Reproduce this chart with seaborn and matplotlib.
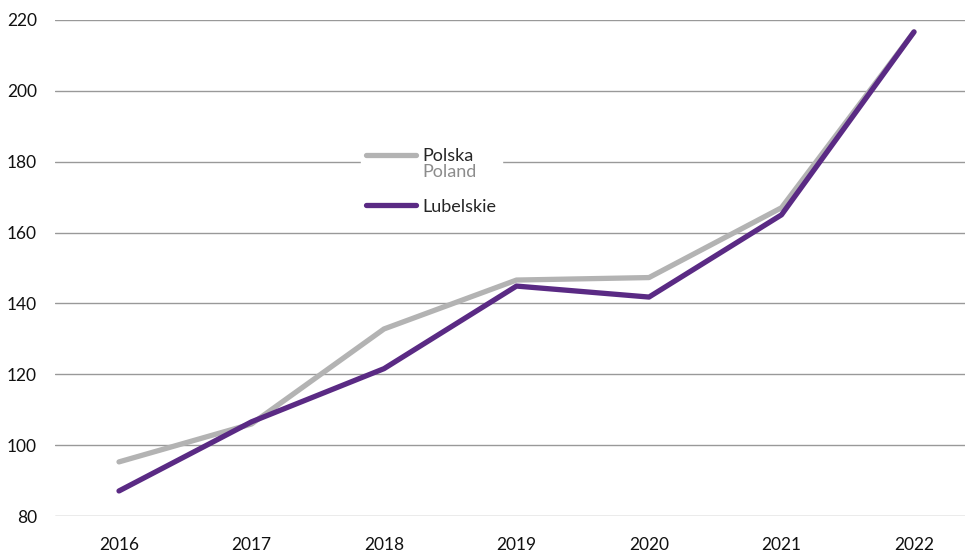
import numpy as np
import pandas as pd
import matplotlib
matplotlib.use("Agg")
import matplotlib.pyplot as plt
import seaborn as sns

# =========================================================
# DATA
# =========================================================

years = [2016, 2017, 2018, 2019, 2020, 2021, 2022]
polska = [95.3, 106.0, 132.8, 146.6, 147.3, 167.0, 216.6]
lubelskie = [87.1, 106.6, 121.6, 144.9, 141.8, 165.0, 216.6]
y_ticks = [80, 100, 120, 140, 160, 180, 200, 220]

df = pd.DataFrame({
    "year": years * 2,
    "value": polska + lubelskie,
    "series": ["Polska"] * len(years) + ["Lubelskie"] * len(years),
})

palette = {"Polska": "#b3b3b3", "Lubelskie": "#5a2a84"}

# =========================================================
# PLOT
# =========================================================

sns.set_style("white")
plt.rcParams["font.family"] = ["Lato", "DejaVu Sans"]

fig = plt.figure(figsize=(9.65, 5.52), dpi=100)
ax = fig.add_axes([0.057, 0.065, 0.943, 0.899])

sns.lineplot(
    data=df,
    x="year",
    y="value",
    hue="series",
    palette=palette,
    linewidth=3.8,
    solid_capstyle="round",
    ax=ax,
    legend=False,
)

ax.set_xlim(2015.517, 2022.385)
ax.set_ylim(80, 220)
ax.set_xticks(years)
ax.set_yticks(y_ticks)
ax.set_xlabel("")
ax.set_ylabel("")
ax.tick_params(axis="both", length=0, labelsize=12.5, colors="#111111")
ax.tick_params(axis="x", pad=15)
ax.tick_params(axis="y", pad=13)
ax.grid(axis="y", color="#999999", linewidth=1.0)
ax.set_axisbelow(True)
for side in ["left", "right", "top", "bottom"]:
    ax.spines[side].set_visible(False)

# legend: Polish label with English translation in grey below it
handles = [
    plt.Line2D([], [], color=palette["Polska"], linewidth=3.8, solid_capstyle="round"),
    plt.Line2D([], [], color=palette["Lubelskie"], linewidth=3.8, solid_capstyle="round"),
]
leg = ax.legend(
    handles,
    ["Polska", "Lubelskie"],
    loc="upper left",
    bbox_to_anchor=(352 / 965, 1 - 134 / 552),
    bbox_transform=fig.transFigure,
    frameon=True,
    facecolor="white",
    edgecolor="white",
    framealpha=1,
    fancybox=False,
    fontsize=13,
    handlelength=2.75,
    handletextpad=0.35,
    labelspacing=1.9,
    borderpad=0.3,
)
polska_text = leg.get_texts()[0]
ax.annotate(
    "Poland",
    xy=(0, 0),
    xycoords=polska_text,
    xytext=(0, 0),
    textcoords="offset points",
    va="top",
    ha="left",
    fontsize=13,
    color="#8c8c8c",
    zorder=10,
)

plt.savefig("out.png", dpi=100)
plt.close()
